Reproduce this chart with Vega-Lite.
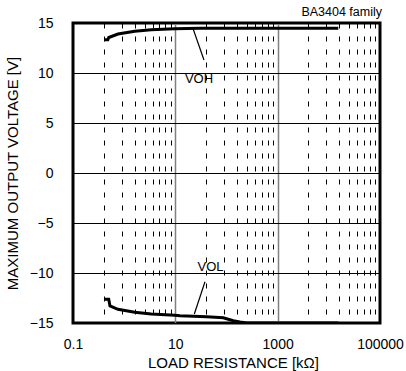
{
  "$schema": "https://vega.github.io/schema/vega-lite/v6.json",
  "width": 307,
  "height": 300,
  "autosize": "none",
  "padding": {"left": 73, "top": 23, "right": 26, "bottom": 48},
  "background": "white",
  "config": {
    "font": "Liberation Sans",
    "view": {"stroke": "#000000", "strokeWidth": 3}
  },
  "datasets": {
    "curves": [
      {"series": "VOH", "i": 1, "r": 0.403, "v": 13.33},
      {"series": "VOH", "i": 2, "r": 0.48, "v": 13.33},
      {"series": "VOH", "i": 3, "r": 0.5, "v": 13.55},
      {"series": "VOH", "i": 4, "r": 0.757, "v": 13.9},
      {"series": "VOH", "i": 5, "r": 1.607, "v": 14.17},
      {"series": "VOH", "i": 6, "r": 3.39, "v": 14.33},
      {"series": "VOH", "i": 7, "r": 9.72, "v": 14.43},
      {"series": "VOH", "i": 8, "r": 30, "v": 14.47},
      {"series": "VOH", "i": 9, "r": 15300, "v": 14.47},
      {"series": "VOL", "i": 1, "r": 0.403, "v": -12.63},
      {"series": "VOL", "i": 2, "r": 0.499, "v": -12.63},
      {"series": "VOL", "i": 3, "r": 0.528, "v": -13.3},
      {"series": "VOL", "i": 4, "r": 0.757, "v": -13.63},
      {"series": "VOL", "i": 5, "r": 1.607, "v": -13.93},
      {"series": "VOL", "i": 6, "r": 3.39, "v": -14.1},
      {"series": "VOL", "i": 7, "r": 9.72, "v": -14.23},
      {"series": "VOL", "i": 8, "r": 12.3, "v": -14.27},
      {"series": "VOL", "i": 9, "r": 41, "v": -14.37},
      {"series": "VOL", "i": 10, "r": 86.5, "v": -14.47},
      {"series": "VOL", "i": 11, "r": 135.8, "v": -14.77},
      {"series": "VOL", "i": 12, "r": 183.6, "v": -14.9},
      {"series": "VOL", "i": 13, "r": 250, "v": -15},
      {"series": "VOL", "i": 14, "r": 15300, "v": -15}
    ],
    "leaders": [
      {"series": "VOH", "i": 1, "r": 22.4, "v": 14.37},
      {"series": "VOH", "i": 2, "r": 36.3, "v": 11.3},
      {"series": "VOL", "i": 1, "r": 38, "v": -10.87},
      {"series": "VOL", "i": 2, "r": 23.5, "v": -14.1}
    ],
    "labels": [
      {"label": "VOH", "r": 29, "v": 9.4},
      {"label": "VOL", "r": 48.7, "v": -9.4}
    ],
    "note": [
      {"label": "BA3404 family", "r": 100000, "v": 15}
    ]
  },
  "layer": [
    {
      "data": {"name": "curves"},
      "mark": {"type": "line", "color": "#000000", "strokeWidth": 3, "clip": true},
      "encoding": {
        "x": {
          "field": "r", "type": "quantitative",
          "scale": {"type": "log", "domain": [0.1, 100000], "nice": false},
          "axis": {
            "title": "LOAD RESISTANCE [kΩ]",
            "titleFontSize": 15, "titleFontWeight": "normal", "titleColor": "#000000",
            "titleX": 160, "titleY": 39, "titleBaseline": "middle", "titleAlign": "center", "titleAnchor": null,
            "values": [0.1, 0.4, 0.9, 1.6, 2.5, 3.6, 4.9, 6.4, 8.1, 10, 40, 90, 160, 250, 360, 490, 640, 810, 1000, 4000, 9000, 16000, 25000, 36000, 49000, 64000, 81000, 100000],
            "labelExpr": "datum.value == 0.1 ? '0.1' : datum.value == 10 ? '10' : datum.value == 1000 ? '1000' : datum.value == 100000 ? '100000' : ''",
            "labelFontSize": 14, "labelColor": "#000000", "labelPadding": 14, "labelFlush": false, "labelOverlap": false,
            "ticks": false, "domain": false,
            "grid": true,
            "gridColor": {"condition": {"test": "datum.value == 10 || datum.value == 1000", "value": "#808080"}, "value": "#000000"},
            "gridWidth": {"condition": {"test": "datum.value == 10 || datum.value == 1000", "value": 1.5}, "value": 1},
            "gridDash": {"condition": {"test": "datum.value == 10 || datum.value == 1000", "value": []}, "value": [5, 8]},
            "gridOpacity": 1
          }
        },
        "y": {
          "field": "v", "type": "quantitative",
          "scale": {"domain": [-15, 15], "nice": false},
          "axis": {
            "title": "MAXIMUM OUTPUT VOLTAGE  [V]",
            "titleFontSize": 15, "titleFontWeight": "normal", "titleColor": "#000000",
            "titleX": -61, "titleY": 150, "titleAngle": -90, "titleBaseline": "middle", "titleAlign": "center", "titleAnchor": null,
            "values": [-15, -10, -5, 0, 5, 10, 15],
            "labelFontSize": 14, "labelColor": "#000000", "labelPadding": 20,
            "ticks": false, "domain": false,
            "grid": true, "gridColor": "#000000", "gridWidth": 1.2, "gridOpacity": 1
          }
        },
        "detail": {"field": "series"},
        "order": {"field": "i", "type": "quantitative"}
      }
    },
    {
      "data": {"name": "leaders"},
      "mark": {"type": "line", "color": "#000000", "strokeWidth": 1.2},
      "encoding": {
        "x": {"field": "r", "type": "quantitative"},
        "y": {"field": "v", "type": "quantitative"},
        "detail": {"field": "series"},
        "order": {"field": "i", "type": "quantitative"}
      }
    },
    {
      "data": {"name": "labels"},
      "mark": {"type": "text", "color": "#000000", "fontSize": 13, "align": "center", "baseline": "middle"},
      "encoding": {
        "x": {"field": "r", "type": "quantitative"},
        "y": {"field": "v", "type": "quantitative"},
        "text": {"field": "label"}
      }
    },
    {
      "data": {"name": "note"},
      "mark": {"type": "text", "color": "#000000", "fontSize": 12.5, "align": "right", "baseline": "bottom", "dx": 2, "dy": -4, "clip": false},
      "encoding": {
        "x": {"field": "r", "type": "quantitative"},
        "y": {"field": "v", "type": "quantitative"},
        "text": {"field": "label"}
      }
    }
  ]
}
